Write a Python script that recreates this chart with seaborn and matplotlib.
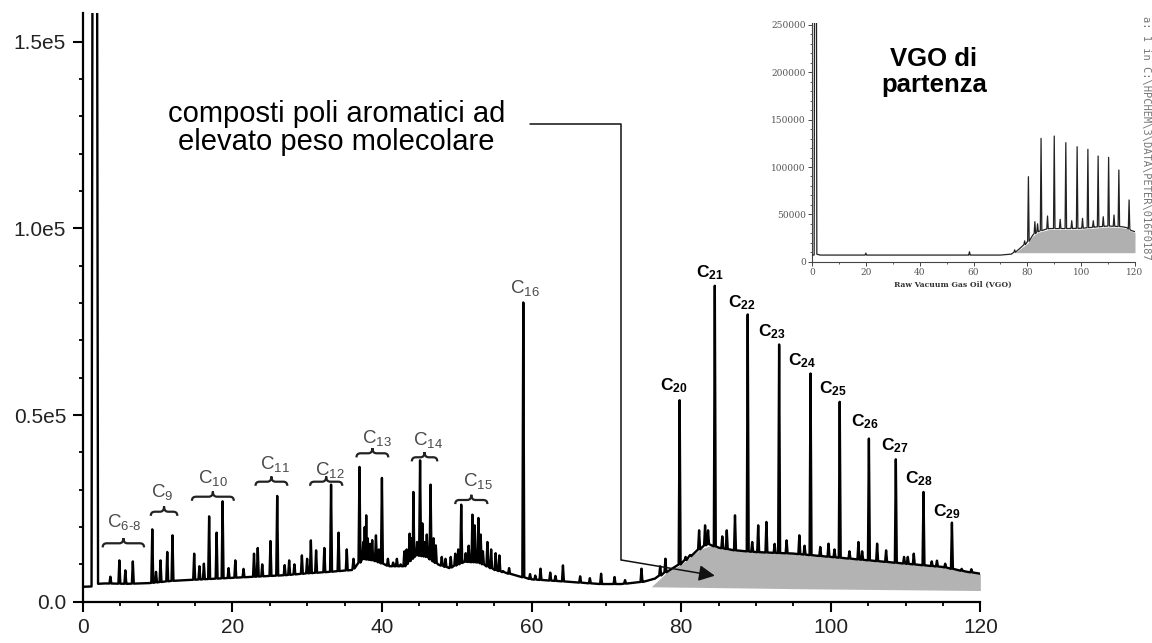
import numpy as np
import matplotlib
matplotlib.use("Agg")
import matplotlib.pyplot as plt
import seaborn as sns
from matplotlib.path import Path
from matplotlib.patches import PathPatch

# ---------------- data ----------------
# main chromatogram: baseline (retention time, signal)
base_x = [0, 1.2, 2.05, 3, 6, 9, 12, 15, 18, 21, 24, 27, 30, 33, 36, 37.5, 39, 41, 43,
          44.5, 46, 47.5, 49, 51, 53, 55, 57, 60, 63, 66, 69, 72, 75, 76.5, 78, 80, 82,
          83.5, 85, 87, 90, 95, 100, 105, 110, 115, 118, 120]
base_y = [4000, 4000, 4900, 4900, 4800, 5000, 5600, 5900, 6200, 6500, 6800, 7100, 7600,
          8000, 8500, 11500, 11000, 9500, 9500, 12500, 12000, 10000, 9000, 10700, 10500,
          8600, 7500, 6000, 5600, 5200, 4740, 4740, 5360, 6200, 8000, 10200, 13500, 15500,
          14500, 13800, 13300, 12900, 12000, 11100, 10200, 9300, 8100, 7500]

# solvent peak (off scale)
solvent_start, solvent_end, solvent_height = 1.28, 1.95, 200000

# peaks: retention time / apex height
peak_x = [3.7, 4.9, 5.7, 6.7, 9.3, 9.8, 10.4, 11.3, 12.0, 14.9, 15.6, 16.2, 16.9, 17.9, 18.7,
          19.5, 20.4, 21.5, 22.9, 23.4, 24.0, 25.1, 26.0, 27.0, 27.6, 28.3, 29.3, 30.0, 30.5,
          31.2, 32.3, 33.2, 34.2, 35.3, 36.2, 37.0, 37.5, 37.9, 38.4, 39.2, 40.0, 40.8, 41.5,
          42.5, 43.3, 43.7, 44.2, 44.7, 45.1, 45.7, 46.5, 47.2, 48.5, 49.2, 49.8, 50.6, 51.2,
          52.1, 52.4, 52.9, 53.5, 54.1, 55.7, 57.0, 58.9, 61.2, 62.5, 64.2, 66.5, 69.3, 71.1,
          74.7, 77.2, 77.9, 79.8, 80.6, 82.4, 83.2, 83.6, 84.5, 86.1, 87.2, 88.9, 90.3, 91.4,
          93.1, 94.1, 95.8, 97.3, 98.6, 99.7, 101.2, 102.5, 103.7, 105.1, 106.2, 107.4, 108.7,
          109.8, 111.1, 112.4, 113.5, 115.3, 116.2, 117.5,
          37.7, 38.1, 38.7, 39.6, 43.0, 44.0, 45.4, 46.0, 46.9, 50.2, 51.6, 53.2, 54.6, 55.2,
          42.0, 48.0, 56.2, 59.8, 60.5, 63.2, 67.8, 72.5, 81.2, 85.5, 89.5, 92.5, 96.5, 100.5,
          104.2, 110.3, 114.2, 118.8]
peak_h = [6700, 11070, 8400, 10800, 19390, 8000, 11070, 13320, 17780, 12870, 9500, 10190,
          22870, 18500, 26890, 9000, 11070, 8800, 12870, 14400, 10000, 16270, 28340, 9800,
          11070, 10000, 12410, 11500, 16430, 13760, 14400, 31370, 18500, 14020, 11500, 36110,
          16000, 23140, 15500, 17780, 33160, 11500, 10500, 10000, 14000, 18230, 29410, 16000,
          37880, 16000, 31370, 15090, 11500, 12000, 12870, 26000, 13000, 23320, 20460, 22440,
          13500, 16000, 12410, 9000, 80160, 8850, 7800, 9730, 6800, 7500, 6620, 8850, 9500,
          11530, 53970, 12000, 19120, 20460, 19120, 84640, 19120, 23140, 76950, 20460, 21370,
          68900, 16430, 17780, 61130, 14660, 15550, 53540, 13500, 16000, 43700, 15550, 13760,
          38150, 12000, 12870, 29400, 10800, 10190, 21180, 8800,
          20000, 17000, 16500, 14000, 13500, 17000, 21000, 18000, 17000, 14000, 15000, 18000,
          14000, 13000,
          11500, 12000, 8200, 7400, 7000, 6900, 6300, 5800, 12500, 17500, 16000, 15500,
          15000, 14000, 13500, 12000, 11000, 8700]

# unresolved hump (grey area)
fill_x = [76, 78, 80, 82.5, 84, 86, 90, 95, 100, 105, 110, 115, 120]
fill_top = [4000, 7700, 10000, 14000, 15100, 14100, 13300, 12900, 12000, 11100, 10200, 9300,
            7500]
fill_bot = [4000, 3950, 3900, 3850, 3800, 3750, 3650, 3500, 3400, 3300, 3200, 3100, 3000]

# labels
grey_labels = [r"C$_{\text{6-8}}$", r"C$_{9}$", r"C$_{10}$", r"C$_{11}$", r"C$_{12}$",
               r"C$_{13}$", r"C$_{14}$", r"C$_{15}$", r"C$_{16}$"]
grey_lx = [3.2, 9.1, 15.45, 23.7, 31.06, 37.3, 44.2, 50.8, 57.1]
grey_ly = [20090, 28130, 31720, 35470, 33940, 42430, 41980, 31000, 82650]
brace_x0 = [2.67, 9.1, 14.6, 23.1, 30.4, 36.6, 44.0, 49.8]
brace_x1 = [8.2, 12.65, 20.2, 27.35, 34.7, 40.85, 47.4, 54.1]
brace_y = [15650, 24110, 28130, 32150, 32150, 39760, 38690, 27250]

bold_numbers = ["20", "21", "22", "23", "24", "25", "26", "27", "28", "29"]
bold_lx = [77.2, 82.0, 86.2, 90.3, 94.3, 98.4, 102.7, 106.7, 109.9, 113.7]
bold_ly = [56530, 86900, 78870, 71000, 63410, 55830, 47070, 40640, 31720, 22770]

x_ticks = [0, 20, 40, 60, 80, 100, 120]
y_ticks = [0, 50000, 100000, 150000]
y_ticklabels = ["0.0", "0.5e5", "1.0e5", "1.5e5"]

annot_text = "composti poli aromatici ad\nelevato peso molecolare"

# inset (starting VGO)
in_base_x = [0, 0.8, 1.75, 3, 20, 40, 58, 70, 74, 76, 78, 80, 82, 84, 88, 95, 100, 105,
             110, 115, 117, 118.5, 120]
in_base_y = [7000, 7000, 8000, 7000, 7000, 7000, 7000, 7000, 8000, 11000, 16000, 20000,
             28000, 32000, 35000, 35000, 35300, 36500, 37700, 37000, 36000, 33000, 31700]
in_solvent_start, in_solvent_end, in_solvent_height = 0.9, 1.7, 300000
in_peak_x = [20, 58.5, 75.3, 79.0, 80.4, 82.8, 83.8, 85.1, 87.5, 90.0, 92.2, 94.3, 96.5,
             98.5, 100.5, 102.5, 104.5, 106.3, 108.2, 110.2, 112.2, 114.0, 117.8]
in_peak_h = [9000, 10500, 12500, 22000, 89780, 42250, 40000, 130300, 48270, 132700, 44750,
             125700, 43300, 121400, 45800, 118700, 43300, 111600, 47500, 110200, 49300,
             96800, 65200]
in_fill_x = [75.5, 78, 80, 82, 84, 88, 95, 100, 105, 110, 115, 117, 118.5, 120]
in_fill_top = [9500, 15000, 19000, 27000, 31000, 34000, 34000, 34500, 35500, 36700, 36000,
               35000, 32000, 31000]
in_fill_bot = [9500] * len(in_fill_x)
in_yticks = [0, 50000, 100000, 150000, 200000, 250000]
in_xticks = [0, 20, 40, 60, 80, 100, 120]


# ---------------- helpers ----------------
def build_trace(bx, by, px, ph, hw, s0, s1, sh):
    bx = np.asarray(bx, float)
    by = np.asarray(by, float)
    pts = []
    feats = list(zip(px, ph))
    for x, y in zip(bx, by):
        if any(abs(x - p) < hw * 1.5 for p, _ in feats) or (s0 - 0.2 < x < s1 + 0.2):
            continue
        pts.append((x, y))
    for p, h in feats:
        b = np.interp(p, bx, by)
        pts += [(p - hw, b), (p, h), (p + hw, b)]
    pts += [(s0 - 0.1, np.interp(s0, bx, by)), (s0 + 0.05, sh),
            (s1 - 0.05, sh), (s1 + 0.1, np.interp(s1, bx, by))]
    pts.sort(key=lambda t: t[0])
    arr = np.array(pts)
    return arr[:, 0], arr[:, 1]


def brace(ax, x0, x1, y, drop=1100, tip=1400, r=0.55, **kw):
    xm = 0.5 * (x0 + x1)
    verts = [(x0, y - drop), (x0, y), (x0 + r, y), (xm - r, y), (xm, y), (xm, y + tip),
             (xm, y), (xm + r, y), (x1 - r, y), (x1, y), (x1, y - drop)]
    codes = [Path.MOVETO, Path.CURVE3, Path.CURVE3, Path.LINETO, Path.CURVE3, Path.CURVE3,
             Path.CURVE3, Path.CURVE3, Path.LINETO, Path.CURVE3, Path.CURVE3]
    ax.add_patch(PathPatch(Path(verts, codes), fill=False, **kw))


# ---------------- style ----------------
sns.set_style("ticks")
plt.rcParams["font.family"] = ["Liberation Sans", "DejaVu Sans"]
plt.rcParams["mathtext.fontset"] = "custom"
plt.rcParams["mathtext.rm"] = "Liberation Sans"
plt.rcParams["mathtext.it"] = "Liberation Sans:italic"
plt.rcParams["mathtext.bf"] = "Liberation Sans:bold"
plt.rcParams["mathtext.sf"] = "Liberation Sans"

fig = plt.figure(figsize=(11.52, 6.43), dpi=100)
ax = fig.add_axes([0.0718, 0.0642, 0.7792, 0.9156])

# ---------------- main chart ----------------
ax.fill_between(fill_x, fill_bot, fill_top, color="#b3b3b3", lw=0, zorder=1)
tx, ty = build_trace(base_x, base_y, peak_x, peak_h, 0.13,
                     solvent_start, solvent_end, solvent_height)
sns.lineplot(x=tx, y=ty, sort=False, estimator=None, color="black", lw=1.7, ax=ax, zorder=3)

ax.set_xlim(0, 120)
ax.set_ylim(0, 157700)
for s in ["top", "right"]:
    ax.spines[s].set_visible(False)
for s in ["left", "bottom"]:
    ax.spines[s].set_linewidth(1.6)
    ax.spines[s].set_color("black")
ax.set_xticks(x_ticks)
ax.set_xticks(np.arange(0, 121, 5), minor=True)
ax.set_yticks(y_ticks)
ax.set_yticklabels(y_ticklabels)
ax.set_yticks(np.arange(0, 157000, 10000), minor=True)
ax.tick_params(which="major", length=7, width=1.5, labelsize=15, direction="out",
               color="black", labelcolor="#222")
ax.tick_params(which="minor", length=3, width=1.3, direction="out", color="black")
ax.tick_params(axis="x", pad=5)
ax.tick_params(axis="y", pad=5)
ax.set_xlabel("")
ax.set_ylabel("")

for lab, lx, ly in zip(grey_labels, grey_lx, grey_ly):
    ax.text(lx, ly, lab, fontsize=13.5, color="#4a4a4a", ha="left", va="baseline", zorder=5)
for x0, x1, by_ in zip(brace_x0, brace_x1, brace_y):
    brace(ax, x0, x1, by_, lw=1.6, edgecolor="#222", zorder=5)
for num, lx, ly in zip(bold_numbers, bold_lx, bold_ly):
    ax.text(lx, ly, r"C$_{\mathbf{%s}}$" % num, fontsize=12.5, fontweight="bold",
            color="black", ha="left", va="baseline", zorder=5)

# annotation with leader line and arrow
ax.text(33.9, 126800, annot_text, fontsize=21, ha="center", va="center",
        linespacing=1.0, color="black")
ax.plot([59.8, 72.0, 72.0], [127980, 127980, 11170], color="#111", lw=1.1, zorder=4)
ax.annotate("", xy=(84.5, 6970), xytext=(72.0, 11170),
            arrowprops=dict(arrowstyle="-|>", lw=1.1, color="#111", mutation_scale=24,
                            shrinkA=0, shrinkB=0), zorder=6)

# ---------------- inset ----------------
ax2 = fig.add_axes([812 / 1152, 1 - 261.7 / 643, 323 / 1152, (261.7 - 23) / 643])
ax2.patch.set_alpha(0)
ax2.fill_between(in_fill_x, in_fill_bot, in_fill_top, color="#b0b0b0", lw=0, zorder=1)
ix, iy = build_trace(in_base_x, in_base_y, in_peak_x, in_peak_h, 0.28,
                     in_solvent_start, in_solvent_end, in_solvent_height)
sns.lineplot(x=ix, y=iy, sort=False, estimator=None, color="#222", lw=0.9, ax=ax2, zorder=3)
ax2.set_xlim(0, 120)
ax2.set_ylim(0, 252100)
for s in ["top", "right"]:
    ax2.spines[s].set_visible(False)
for s in ["left", "bottom"]:
    ax2.spines[s].set_linewidth(0.8)
    ax2.spines[s].set_color("#444")
ax2.set_yticks(in_yticks)
ax2.set_yticklabels([str(v) for v in in_yticks])
ax2.set_yticks(np.arange(0, 252000, 10000), minor=True)
ax2.set_xticks(in_xticks)
ax2.set_xticks(np.arange(0, 121, 10), minor=True)
ax2.tick_params(which="major", length=3, width=0.7, color="#444", pad=1.5,
                labelsize=6.5, labelcolor="#555")
ax2.tick_params(which="minor", length=1.5, width=0.6, color="#444")
for t in ax2.get_xticklabels() + ax2.get_yticklabels():
    t.set_fontfamily("DejaVu Serif")
ax2.set_xlabel("")
ax2.set_ylabel("")
ax2.text(0.4365, -0.098, "Raw Vacuum Gas Oil (VGO)", transform=ax2.transAxes,
         ha="center", va="center", fontsize=5.5, fontweight="bold",
         family="DejaVu Serif", color="#333")

fig.text(934 / 1152, 1 - 72 / 643, "VGO di\npartenza", ha="center", va="center",
         fontsize=18.5, fontweight="bold", linespacing=1.15, color="black")
fig.text(1146 / 1152, 1 - 138 / 643, "a: 1 in C:\\HPCHEM\\3\\DATA\\PETER\\016F0187",
         rotation=270, ha="center", va="center", fontsize=7.5,
         family="DejaVu Sans Mono", color="#777")

fig.savefig("out.png", dpi=100)
